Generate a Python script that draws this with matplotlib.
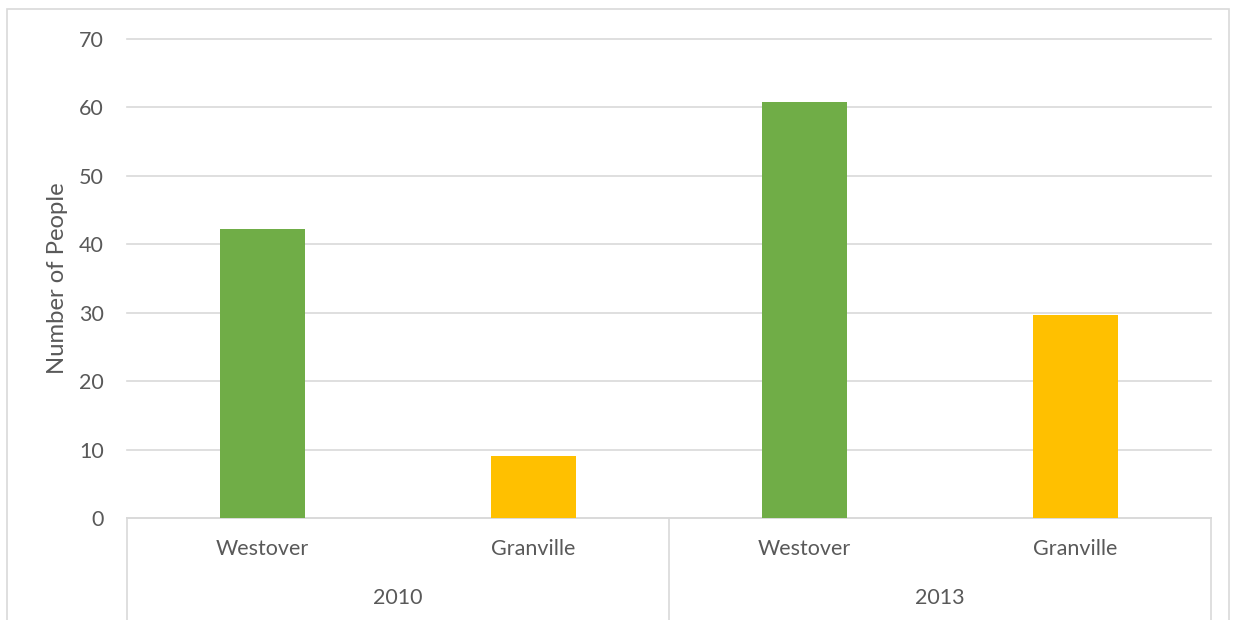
import matplotlib
matplotlib.use("Agg")
import matplotlib.pyplot as plt
from matplotlib.patches import Rectangle
from matplotlib.lines import Line2D

years = ["2010", "2013"]
towns = ["Westover", "Granville"]
values = [42.2, 9.1, 60.8, 29.7]
colors = ["#70AD47", "#FFC000", "#70AD47", "#FFC000"]
yticks = [0, 10, 20, 30, 40, 50, 60, 70]
ylabel = "Number of People"

W, H = 1236, 620
fig = plt.figure(figsize=(W / 100, H / 100), dpi=100)
plt.rcParams['font.family'] = ['Lato', 'DejaVu Sans']
tc = "#595959"
gc = "#D9D9D9"
fs = 15.5

x0, x1 = 127, 1211
y0, y1 = 518, 38.7
ax = fig.add_axes([x0 / W, 1 - y0 / H, (x1 - x0) / W, (y0 - y1) / H])
xs = list(range(len(values)))
ax.bar(xs, values, width=0.317, color=colors, zorder=3)
ax.set_xlim(-0.5, len(values) - 0.5)
ax.set_ylim(0, 70)
ax.set_yticks(yticks)
ax.set_yticklabels([str(v) for v in yticks], color=tc, fontsize=fs)
ax.tick_params(axis='y', length=0, pad=16.5)
ax.tick_params(axis='x', length=0)
ax.set_xticks([])
ax.grid(axis='y', color=gc, linewidth=1.2, zorder=0, clip_on=False)
for s in ['top', 'right', 'left']:
    ax.spines[s].set_visible(False)
ax.spines['bottom'].set_color(gc)
ax.spines['bottom'].set_linewidth(1.2)
ax.set_ylabel(ylabel, color=tc, fontsize=17.2)
ax.yaxis.set_label_coords((58 - x0) / (x1 - x0), 0.5)
ax.yaxis.label.set_va('center')

# multi-level category labels
labels = [t for y in years for t in towns]
for i, lab in enumerate(labels):
    ax.text(i, -4.6, lab, ha='center', va='center', color=tc, fontsize=fs,
            transform=ax.transData, clip_on=False)
for j, yr in enumerate(years):
    ax.text(j * 2 + 0.5, -11.7, yr, ha='center', va='center', color=tc, fontsize=fs,
            transform=ax.transData, clip_on=False)

# separators
for xp in [x0, (x0 + x1) / 2, x1]:
    fig.add_artist(Line2D([xp / W, xp / W], [0, 1 - y0 / H], color=gc, linewidth=1.2,
                          transform=fig.transFigure))

# outer border
fig.add_artist(Rectangle((7 / W, -0.1), (1229 - 7) / W, 1 - 9 / H + 0.1, fill=False,
                         edgecolor=gc, linewidth=1.2, transform=fig.transFigure))

fig.savefig("out.png", dpi=100)
